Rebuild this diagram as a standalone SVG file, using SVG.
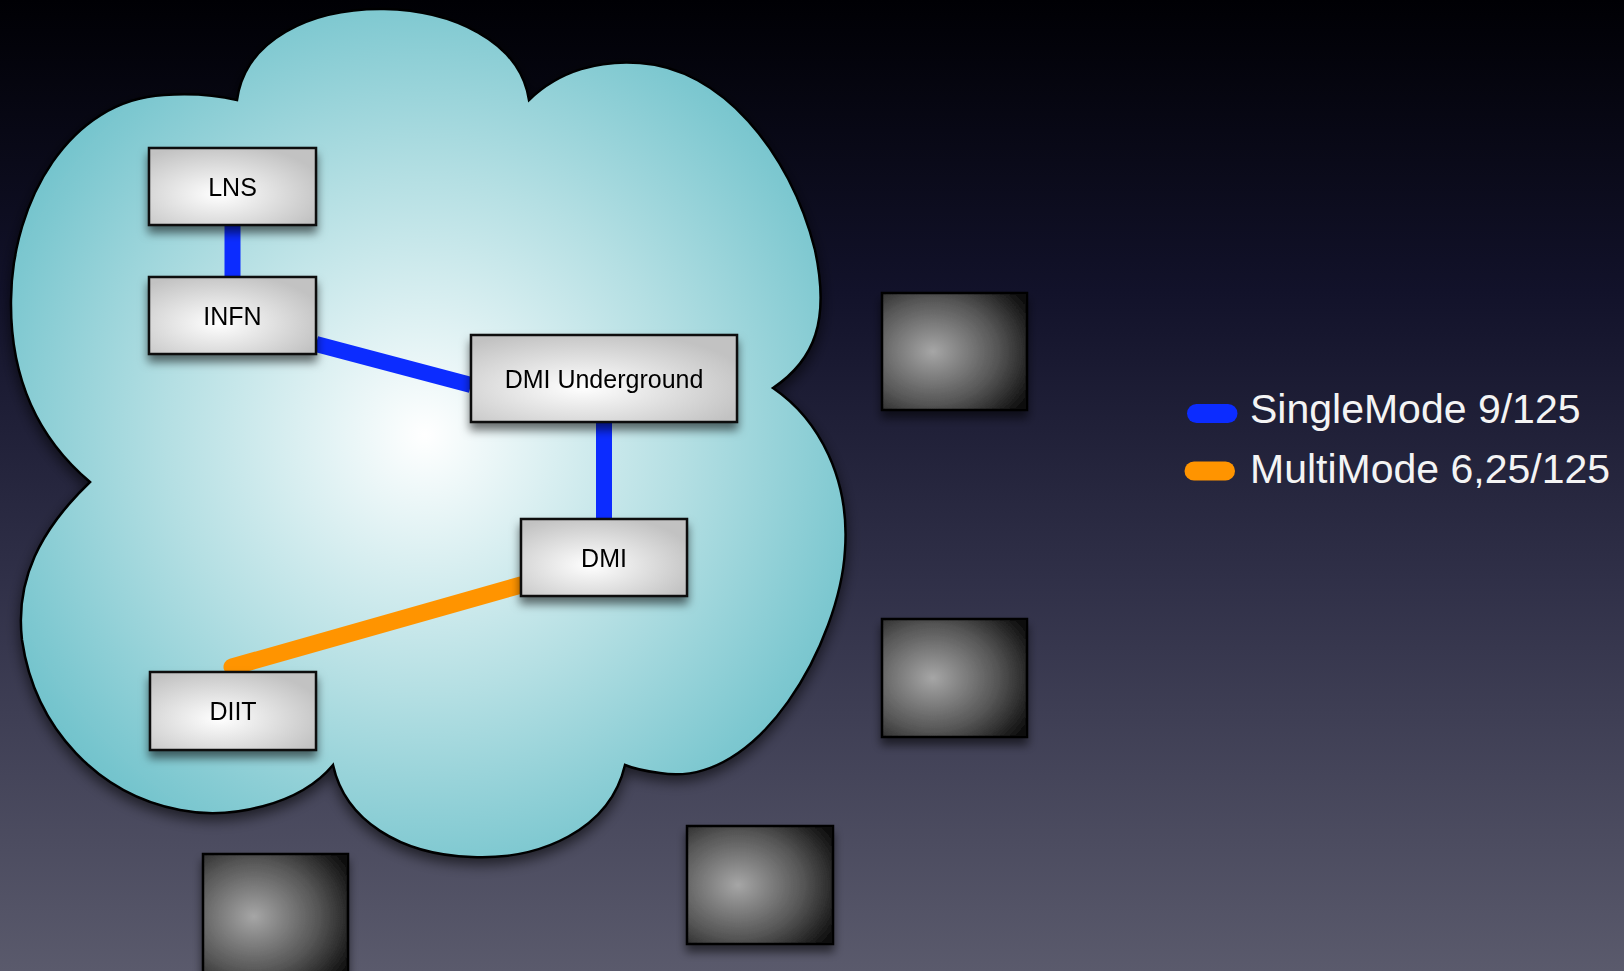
<svg xmlns="http://www.w3.org/2000/svg" width="1624" height="971" viewBox="0 0 1624 971">
<defs>
<linearGradient id="bg" x1="0" y1="0" x2="0" y2="1">
<stop offset="0" stop-color="#000004"/>
<stop offset="0.3" stop-color="#12122a"/>
<stop offset="0.6" stop-color="#303048"/>
<stop offset="1" stop-color="#5a5a6c"/>
</linearGradient>
<radialGradient id="cloudFill" gradientUnits="userSpaceOnUse" cx="425" cy="435" r="470">
<stop offset="0" stop-color="#ffffff"/>
<stop offset="0.55" stop-color="#b4dfe3"/>
<stop offset="1" stop-color="#72c3cc"/>
</radialGradient>
<radialGradient id="boxFill" cx="0.42" cy="0.6" r="0.65">
<stop offset="0" stop-color="#ffffff"/>
<stop offset="1" stop-color="#c2c2c2"/>
</radialGradient>
<radialGradient id="darkFill" cx="0.35" cy="0.5" r="0.75">
<stop offset="0" stop-color="#a6a6a6"/>
<stop offset="0.6" stop-color="#555555"/>
<stop offset="1" stop-color="#111111"/>
</radialGradient>
<filter id="shadow" x="-20%" y="-20%" width="140%" height="150%">
<feDropShadow dx="0" dy="7" stdDeviation="5" flood-color="#000" flood-opacity="0.55"/>
</filter>
<filter id="cloudShadow" x="-10%" y="-10%" width="120%" height="120%">
<feDropShadow dx="0" dy="6" stdDeviation="7" flood-color="#000" flood-opacity="0.6"/>
</filter>
</defs>
<style>
.node rect { fill: url(#boxFill); stroke: #111; stroke-width: 2.5; }
.node text { font-family: "Liberation Sans", Arial, sans-serif; font-size: 25px; fill: #000; text-anchor: middle; }
.dark rect { fill: url(#darkFill); stroke: #000; stroke-width: 2.5; }
.sm { stroke: #0c2cff; stroke-width: 16; fill: none; }
.mm { stroke: #ff9400; stroke-width: 17; fill: none; stroke-linecap: round; }
.legend text { font-family: "Liberation Sans", Arial, sans-serif; font-size: 41px; fill: #f4f4f4; }
</style>
<rect x="0" y="0" width="1624" height="971" fill="url(#bg)"/>
<g id="cloud" filter="url(#cloudShadow)">
<path d="M237,100 C245,40 310,8 384,9 C450,10 520,40 529,100 C560,70 600,60 640,63 C720,68 790,150 815,250 C830,320 815,360 773,388 C820,420 850,480 845,550 C840,640 760,790 660,773 C645,771 632,768 625,765 C610,830 540,860 472,857 C400,855 345,820 333,765 C300,805 230,820 180,810 C100,795 35,730 22,640 C15,580 40,530 90,482 C40,440 10,380 11,300 C12,200 70,100 164,95 C195,93 220,96 237,100 Z" fill="url(#cloudFill)" stroke="#000" stroke-width="2.5"/>
</g>
<g id="connectors">
<line class="sm" x1="232.5" y1="225" x2="232.5" y2="277"/>
<line class="sm" x1="316" y1="344" x2="471" y2="385"/>
<line class="sm" x1="604" y1="422" x2="604" y2="519"/>
<line class="mm" x1="232" y1="667" x2="521" y2="585"/>
</g>
<g id="lns" class="node" filter="url(#shadow)">
<rect x="149" y="148" width="167" height="77"/>
<text x="232.5" y="195.5">LNS</text>
</g>
<g id="infn" class="node" filter="url(#shadow)">
<rect x="149" y="277" width="167" height="77"/>
<text x="232.5" y="324.5">INFN</text>
</g>
<g id="dmi-underground" class="node" filter="url(#shadow)">
<rect x="471" y="335" width="266" height="87"/>
<text x="604" y="387.5">DMI Underground</text>
</g>
<g id="dmi" class="node" filter="url(#shadow)">
<rect x="521" y="519" width="166" height="77"/>
<text x="604" y="566.5">DMI</text>
</g>
<g id="diit" class="node" filter="url(#shadow)">
<rect x="150" y="672" width="166" height="78"/>
<text x="233" y="720">DIIT</text>
</g>
<g id="box1" class="dark" filter="url(#shadow)">
<rect x="882" y="293" width="145" height="117"/>
</g>
<g id="box2" class="dark" filter="url(#shadow)">
<rect x="882" y="619" width="145" height="118"/>
</g>
<g id="box3" class="dark" filter="url(#shadow)">
<rect x="203" y="854" width="145" height="125"/>
</g>
<g id="box4" class="dark" filter="url(#shadow)">
<rect x="687" y="826" width="146" height="118"/>
</g>
<g id="legend" class="legend">
<line x1="1196.5" y1="413.5" x2="1228" y2="413.5" stroke="#0c2cff" stroke-width="19" stroke-linecap="round"/>
<text x="1250" y="422.5">SingleMode 9/125</text>
<line x1="1194" y1="471" x2="1225.5" y2="471" stroke="#ff9400" stroke-width="19" stroke-linecap="round"/>
<text x="1250" y="483">MultiMode 6,25/125</text>
</g>
</svg>
